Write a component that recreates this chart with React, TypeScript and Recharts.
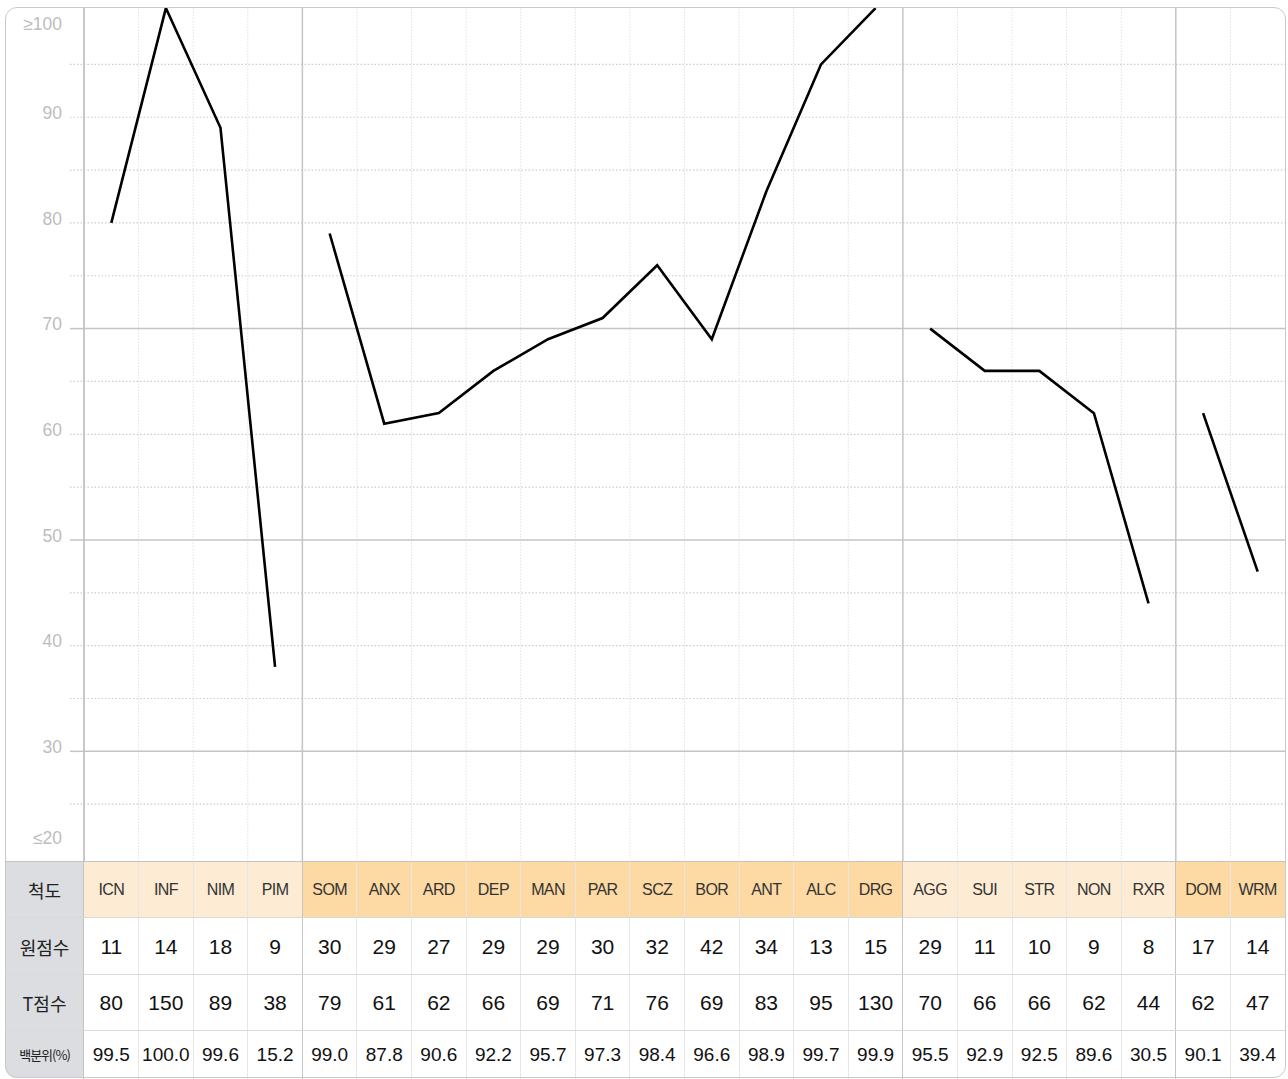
import React from 'react'
import { LineChart, Line, XAxis, YAxis, ReferenceLine } from 'recharts'

// 척도 / 점수 데이터
const SCALES = ['ICN', 'INF', 'NIM', 'PIM', 'SOM', 'ANX', 'ARD', 'DEP', 'MAN', 'PAR', 'SCZ', 'BOR', 'ANT', 'ALC', 'DRG', 'AGG', 'SUI', 'STR', 'NON', 'RXR', 'DOM', 'WRM']
const GROUP_SIZES = [4, 11, 5, 2]
const RAW_SCORES = [11, 14, 18, 9, 30, 29, 27, 29, 29, 30, 32, 42, 34, 13, 15, 29, 11, 10, 9, 8, 17, 14]
const T_SCORES = [80, 150, 89, 38, 79, 61, 62, 66, 69, 71, 76, 69, 83, 95, 130, 70, 66, 66, 62, 44, 62, 47]
const PERCENTILES = ['99.5', '100.0', '99.6', '15.2', '99.0', '87.8', '90.6', '92.2', '95.7', '97.3', '98.4', '96.6', '98.9', '99.7', '99.9', '95.5', '92.9', '92.5', '89.6', '30.5', '90.1', '39.4']
const ROW_LABELS = ['척도', '원점수', 'T점수', '백분위(%)']
const Y_TICKS = [20, 25, 30, 35, 40, 45, 50, 55, 60, 65, 70, 75, 80, 85, 90, 95, 100]
const SOLID_Y = [30, 50, 70]
const Y_MIN = 19.53
const Y_MAX = 100.43

const HEADER_COLORS = ['#fdebd3', '#fdd9a4', '#fdebd3', '#fdd9a4']
const GRID = '#c4c4c4'
const DOTTED = '#cccccc'
const FONT = '"Liberation Sans", Arial, Helvetica, sans-serif'
const KFONT = '"Noto Sans CJK KR", "Liberation Sans", sans-serif'

const W = 1288
const CHART_H = 862
const LEFT = 84
const COL_W = (1285 - LEFT) / SCALES.length

// 각 척도의 그룹 번호
const groupOf: number[] = GROUP_SIZES.flatMap((n, g) => Array.from({ length: n }, () => g))
const groupStarts = GROUP_SIZES.map((_, g) => GROUP_SIZES.slice(0, g).reduce((a, b) => a + b, 0))

const data = SCALES.map((name, i) => {
  const row: Record<string, string | number | null> = { name }
  GROUP_SIZES.forEach((_, g) => {
    row[`g${g}`] = groupOf[i] === g ? Math.min(T_SCORES[i], Y_MAX - 0.1) : null
  })
  return row
})

function YTick(props: any) {
  const { y, payload } = props
  const v = payload.value as number
  let label = v % 10 === 0 ? String(v) : ''
  let dy = -3
  if (v === 100) { label = '≥100'; dy = 14 }
  if (v === 20) { label = '≤20'; dy = -18 }
  const showLine = v > 20 && v < 100
  const solid = SOLID_Y.includes(v)
  return (
    <g>
      {showLine && (
        <line x1={70} x2={LEFT} y1={y} y2={y}
          stroke={solid ? GRID : DOTTED} strokeWidth={solid ? 1.5 : 1.2}
          strokeDasharray={solid ? undefined : '1.5 2'} />
      )}
      {label && (
        <text x={62} y={y + dy} textAnchor="end" dominantBaseline="middle"
          fill="#bdbdbd" fontSize={17.5} fontFamily={FONT}>{label}</text>
      )}
    </g>
  )
}

const ROW_TOPS = [862, 918, 975, 1031]
const ROW_HS = [56, 57, 56, 47]

function Table() {
  const cells: React.ReactNode[] = []
  ROW_LABELS.forEach((lab, r) => {
    const isLast = r === ROW_LABELS.length - 1
    cells.push(
      <div key={`l${r}`} style={{
        position: 'absolute', left: 5, top: ROW_TOPS[r], width: LEFT - 5, height: ROW_HS[r],
        background: '#dcdde0', display: 'flex', alignItems: 'center', justifyContent: 'center',
        fontFamily: KFONT, fontSize: isLast ? 13 : 18, letterSpacing: isLast ? -1 : 0,
        color: '#222', borderBottomLeftRadius: isLast ? 12 : 0,
      }}>{lab}</div>
    )
    SCALES.forEach((s, i) => {
      const text = r === 0 ? s : r === 1 ? String(RAW_SCORES[i]) : r === 2 ? String(T_SCORES[i]) : PERCENTILES[i]
      cells.push(
        <div key={`c${r}-${i}`} style={{
          position: 'absolute', left: LEFT + i * COL_W, top: ROW_TOPS[r], width: COL_W, height: ROW_HS[r],
          background: r === 0 ? HEADER_COLORS[groupOf[i]] : 'transparent',
          display: 'flex', alignItems: 'center', justifyContent: 'center',
          fontFamily: FONT, color: r === 0 ? '#333' : '#111',
          fontSize: r === 0 ? 16 : r === 3 ? 19 : 21, letterSpacing: r === 0 ? -0.6 : 0,
        }}>{text}</div>
      )
    })
  })
  // 열 구분선
  const lines: React.ReactNode[] = []
  SCALES.forEach((_, i) => {
    if (i === 0) return
    const solid = groupStarts.includes(i)
    lines.push(
      <div key={`v${i}`} style={{
        position: 'absolute', left: LEFT + i * COL_W - (solid ? 0.75 : 0.5), top: 862, width: 0, height: 1079 - 862,
        borderLeft: solid ? `1.5px solid ${GRID}` : `1px solid #e6e6e6`,
      }} />
    )
  })
  lines.push(<div key="v0" style={{ position: 'absolute', left: LEFT - 0.75, top: 862, width: 0, height: 1079 - 862, borderLeft: `1.5px solid ${GRID}` }} />)
  ROW_TOPS.forEach((t, r) => {
    lines.push(<div key={`h${r}`} style={{ position: 'absolute', left: 5, top: t - 0.75, width: 1280, height: 0, borderTop: `1.5px solid ${r === 0 ? GRID : '#d9d9d9'}` }} />)
  })
  return <>{cells}{lines}</>
}

export default function App() {
  return (
    <div style={{ position: 'absolute', left: 0, top: 0, width: W, height: 1079, background: '#fff', overflow: 'hidden' }}>
      <div style={{ position: 'absolute', left: 0, top: 0 }}>
        <LineChart width={W} height={CHART_H} data={data} margin={{ top: 7, right: 3, bottom: 0, left: 0 }}>
          <XAxis dataKey="name" scale="band" hide />
          <YAxis type="number" domain={[Y_MIN, Y_MAX]} ticks={Y_TICKS} width={LEFT} allowDataOverflow
            axisLine={{ stroke: GRID, strokeWidth: 1.5 }} tickLine={false} tick={<YTick />} interval={0} />
          {Y_TICKS.filter((v) => v > 20 && v < 100 && !SOLID_Y.includes(v)).map((v) => (
            <ReferenceLine key={`dy${v}`} y={v} stroke={DOTTED} strokeWidth={1.2} strokeDasharray="1.5 2" />
          ))}
          {SCALES.map((s, i) => (
            <ReferenceLine key={`dx${s}`} x={s} position="start"
              stroke={groupStarts.includes(i) ? GRID : '#e2e2e2'}
              strokeWidth={groupStarts.includes(i) ? 1.5 : 1}
              strokeDasharray={groupStarts.includes(i) ? undefined : '1.5 1.5'} />
          ))}
          {SOLID_Y.map((v) => (
            <ReferenceLine key={`sy${v}`} y={v} stroke={GRID} strokeWidth={1.5} />
          ))}
          {GROUP_SIZES.map((_, g) => (
            <Line key={g} type="linear" dataKey={`g${g}`} stroke="#000" strokeWidth={2.6}
              dot={false} activeDot={false} connectNulls={false} isAnimationActive={false} />
          ))}
        </LineChart>
      </div>
      <Table />
      <div style={{
        position: 'absolute', left: 5, top: 6.5, width: 1280.5, height: 1071,
        border: '1.5px solid #c9c9c9', borderRadius: 12, boxSizing: 'border-box', pointerEvents: 'none',
      }} />
    </div>
  )
}
